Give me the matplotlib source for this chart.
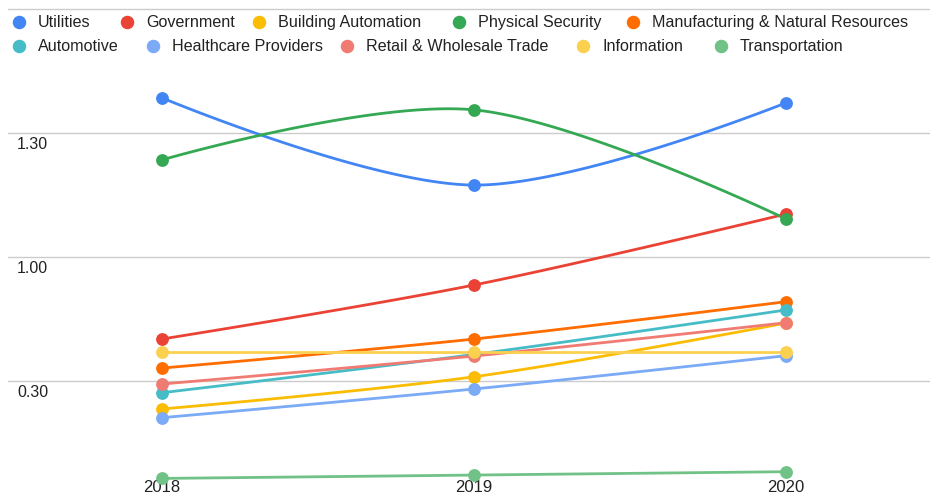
import numpy as np
import matplotlib
matplotlib.use("Agg")
import matplotlib.pyplot as plt
from matplotlib.lines import Line2D
import matplotlib.transforms as mtransforms

plt.rcParams['font.family'] = ['Liberation Sans', 'DejaVu Sans']

# ---- data ----
years = [2018, 2019, 2020]
series_names = [
    "Utilities", "Government", "Building Automation", "Physical Security",
    "Manufacturing & Natural Resources", "Automotive", "Healthcare Providers",
    "Retail & Wholesale Trade", "Information", "Transportation",
]
utilities = [1.385, 1.174, 1.373]
government = [0.537, 0.842, 1.104]
building_automation = [0.142, 0.324, 0.627]
physical_security = [1.235, 1.356, 1.092]
manufacturing = [0.373, 0.537, 0.748]
automotive = [0.234, 0.450, 0.701]
healthcare = [0.093, 0.255, 0.443]
retail = [0.283, 0.441, 0.629]
information = [0.465, 0.465, 0.465]
transportation = [-0.250, -0.231, -0.212]
y_ticks = [0.30, 1.00, 1.30]
y_tick_labels = ["0.30", "1.00", "1.30"]
y_top_gridline = 1.60  # unlabeled gridline hidden behind the legend

series_values = [utilities, government, building_automation, physical_security,
                 manufacturing, automotive, healthcare, retail, information,
                 transportation]
colors = ["#4285F4", "#EA4335", "#FBBC04", "#34A853", "#FF6D01",
          "#46BDC6", "#7BAAF7", "#F07B72", "#FCD04F", "#71C287"]


# Axis spacing: gridlines are evenly spaced, piecewise-linear between them
def fwd(v):
    v = np.asarray(v, dtype=float)
    return np.where(v <= 1.0, (v - 0.3) / 0.7, 1.0 + (v - 1.0) / 0.3)


def inv(p):
    p = np.asarray(p, dtype=float)
    return np.where(p <= 1.0, 0.3 + 0.7 * p, 1.0 + 0.3 * (p - 1.0))


def smooth(xs, ys, n=60):
    """Cubic Bezier smoothing through the points (curve-type function)."""
    xs = np.asarray(xs, float)
    ys = np.asarray(ys, float)
    pts = np.column_stack([xs, ys])
    m = len(pts)
    tang = np.zeros_like(pts)
    for i in range(1, m - 1):
        tang[i] = (pts[i + 1] - pts[i - 1]) / 2.0
    out = []
    t = np.linspace(0, 1, n)[:, None]
    for i in range(m - 1):
        p0, p3 = pts[i], pts[i + 1]
        p1 = p0 + tang[i] / 3.0
        p2 = p3 - tang[i + 1] / 3.0
        seg = ((1 - t) ** 3) * p0 + 3 * ((1 - t) ** 2) * t * p1 + 3 * (1 - t) * t ** 2 * p2 + t ** 3 * p3
        out.append(seg if i == 0 else seg[1:])
    out = np.vstack(out)
    return out[:, 0], out[:, 1]


W, H = 930, 498
fig = plt.figure(figsize=(W / 100, H / 100), dpi=100)
ax_left, ax_right, ax_top, ax_bottom = 8, 930, 4, 476
ax = fig.add_axes([ax_left / W, (H - ax_bottom) / H,
                   (ax_right - ax_left) / W, (ax_bottom - ax_top) / H])
ax.set_yscale('function', functions=(fwd, inv))

for vals, col in zip(series_values, colors):
    # spline computed in evenly spaced axis units, then mapped back to values
    sx, sp = smooth(years, fwd(vals))
    ax.plot(sx, inv(sp), color=col, lw=2, solid_capstyle='round',
            clip_on=False, zorder=2)
    ax.plot(years, vals, 'o', color=col, ms=8.2, mec=col, clip_on=False, zorder=3)

# x range around the three years
px_per_year = (786 - 162) / 2
ax.set_xlim(2018 - (162 - ax_left) / px_per_year, 2020 + (ax_right - 786) / px_per_year)
ax.set_ylim(float(inv((381 - ax_bottom) / 124)), float(inv((381 - ax_top) / 124)))

ax.set_xticks(years)
ax.set_xticklabels([str(y) for y in years], fontsize=12, color="#222222")
ax.tick_params(axis='x', length=0, pad=3)
ax.set_yticks(y_ticks + [y_top_gridline])
ax.set_yticklabels([])
ax.tick_params(axis='y', length=0)
ax.grid(axis='y', color="#cccccc", lw=1)
ax.set_axisbelow(True)
for s in ax.spines.values():
    s.set_visible(False)

# y labels drawn inside the plot, just under each gridline
trans = mtransforms.blended_transform_factory(ax.transAxes, ax.transData)
off = mtransforms.ScaledTranslation(0, -11 / 100, fig.dpi_scale_trans)
for v, lab in zip(y_ticks, y_tick_labels):
    ax.text((17 - ax_left) / (ax_right - ax_left), v, lab, transform=trans + off,
            ha='left', va='center', fontsize=11.5, color="#222222")

# legend: two rows of marker + label
legend_rows = [(22, [19, 127, 259, 459, 633]), (46, [19, 153, 347, 583, 721])]
k = 0
for ypix, xs in legend_rows:
    for xpix in xs:
        fig.add_artist(Line2D([xpix / W], [1 - ypix / H], marker='o', ms=8.7,
                              color=colors[k], mec=colors[k], lw=0,
                              transform=fig.transFigure))
        fig.text((xpix + 19) / W, 1 - (ypix + 0.5) / H, series_names[k], ha='left',
                 va='center', fontsize=11.65, color="#222222")
        k += 1

fig.savefig("out.png", dpi=100)
